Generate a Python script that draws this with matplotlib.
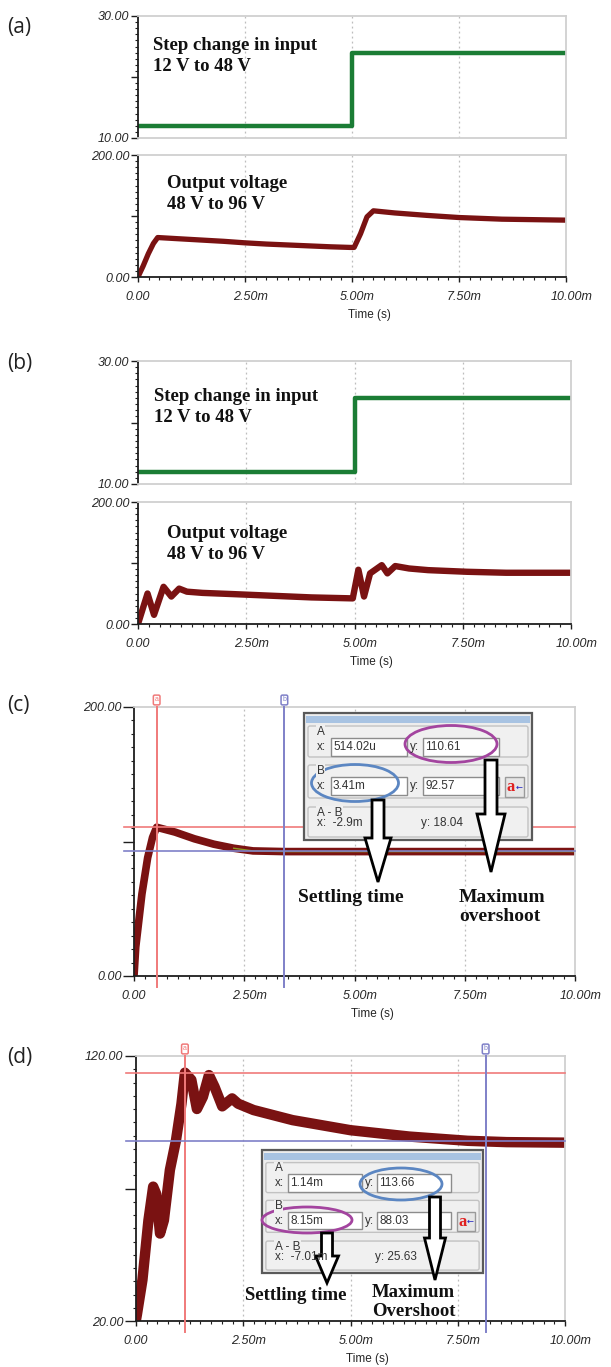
import numpy as np
import matplotlib
matplotlib.use('Agg')
import matplotlib.pyplot as plt
from matplotlib import patches, transforms

W, H = 611, 1367

# ---------------- data (time in ms) ----------------
step_t = [0.0, 5.0, 5.0, 10.0]
step_a = [12.0, 12.0, 23.9, 23.9]
step_b = [12.0, 12.0, 24.0, 24.0]

out_a_t = [0.0, 0.12, 0.24, 0.36, 0.46, 1.0, 1.5, 2.0, 2.5, 3.0, 3.5, 4.0, 4.5, 4.95,
           5.05, 5.2, 5.35, 5.5, 6.0, 6.75, 7.5, 8.5, 10.0]
out_a_v = [0, 18, 38, 55, 64.7, 62.5, 60.5, 58.5, 56, 54, 52.5, 51, 49.5, 48.5,
           48.5, 71, 98.6, 108.5, 105, 101, 97.5, 94.8, 93.2]

out_b_t = [0.0, 0.22, 0.37, 0.59, 0.77, 0.95, 1.13, 1.49, 2.2, 3.1, 4.0, 4.96,
           5.09, 5.22, 5.36, 5.63, 5.76, 5.94, 6.26, 6.7, 7.6, 8.5, 10.0]
out_b_v = [0, 50, 15, 61, 45, 58, 53, 51, 49, 46.3, 43.6, 42,
           89, 45, 83, 96.5, 83, 95, 91, 88.3, 85.6, 84, 84]

out_c_t = [0.0, 0.04, 0.18, 0.31, 0.42, 0.514, 0.93, 1.37, 1.81, 2.26, 2.7, 3.41, 10.0]
out_c_v = [0, 21.6, 61, 88, 103, 110.6, 107, 102, 98, 95, 93, 92.5, 92.5]

out_d_t = [0.0, 0.02, 0.15, 0.29, 0.40, 0.47, 0.56, 0.65, 0.79, 0.93, 1.06, 1.14, 1.29,
           1.42, 1.56, 1.70, 1.83, 2.01, 2.24, 2.38, 2.74, 3.65, 5.0, 6.37, 7.73, 8.64, 10.0]
out_d_v = [20.5, 22.3, 35.5, 58, 70.7, 68, 53, 58, 77, 88, 102, 113.7, 111,
           100, 104.6, 112.8, 108.4, 101, 104, 102, 99.6, 95.8, 92, 89.6, 88, 87.5, 87.3]

cursor_c_t = [0.514, 3.41]
cursor_c_v = [110.61, 92.57]
cursor_d_t = [1.14, 8.15]
cursor_d_v = [113.66, 88.03]
readout_c = ['514.02u', '110.61', '3.41m', '92.57', '-2.9m', '18.04']
readout_d = ['1.14m', '113.66', '8.15m', '88.03', '-7.01m', '25.63']

x_ticks = [0, 2.5, 5, 7.5, 10]
x_ticklabels = ['0.00', '2.50m', '5.00m', '7.50m', '10.00m']

GREEN = '#1b7d35'
MAROON = '#7a1212'
CRED = '#f07a7a'
CBLUE = '#7f80c8'
SANS = 'Liberation Sans'
SERIF = 'Liberation Serif'

fig = plt.figure(figsize=(W / 100, H / 100), dpi=100)


def px_rect(l, r, t, b):
    return [l / W, 1 - b / H, (r - l) / W, (b - t) / H]


def style(ax, ylim, ymaj, ylabs, yminor, xlabels=True, ylen=5):
    ax.set_xlim(0, 10)
    ax.set_ylim(ylim)
    for s in ['top', 'right']:
        ax.spines[s].set_color('#d0d0d0')
        ax.spines[s].set_linewidth(1.3)
    ax.spines['left'].set_color('#1e1e1e')
    ax.spines['left'].set_linewidth(1.3)
    ax.spines['bottom'].set_color('#1e1e1e' if xlabels else '#d0d0d0')
    ax.spines['bottom'].set_linewidth(1.3)
    for t in [2.5, 5, 7.5]:
        ax.axvline(t, color='#bdbdbd', ls=(0, (1.5, 2.5)), lw=0.9, zorder=0)
    ax.set_yticks(ymaj)
    ax.set_yticklabels(ylabs, fontsize=9, style='italic', family=SANS, color='#262626')
    ax.set_yticks(yminor, minor=True)
    ax.tick_params(axis='y', which='major', length=ylen, width=1, color='#1e1e1e', pad=1)
    ax.tick_params(axis='y', which='minor', length=2.2, width=0.8, color='#1e1e1e')
    if xlabels:
        ax.set_xticks(x_ticks)
        ax.set_xticklabels(x_ticklabels, fontsize=9, style='italic', family=SANS,
                           color='#262626')
        ax.set_xticks(np.arange(0, 10.01, 0.25), minor=True)
        ax.tick_params(axis='x', which='major', length=3.5, width=1, color='#1e1e1e', pad=6.5)
        ax.tick_params(axis='x', which='minor', length=2.5, width=0.8, color='#1e1e1e')
        # number part centred on the tick, unit letter hangs to the right
        for lab in ax.get_xticklabels():
            if lab.get_text().endswith('m'):
                lab.set_transform(lab.get_transform() +
                                  transforms.ScaledTranslation(4 / 72, 0, fig.dpi_scale_trans))
        off = transforms.offset_copy(ax.transAxes, fig=fig, x=0, y=-38, units='dots')
        ax.text(0.54, 0, 'Time (s)', transform=off, ha='center', va='center',
                fontsize=8.5, family=SANS, color='#262626')
    else:
        ax.set_xticks([])


def cursors(ax, ts, vs, xpx):
    left = -10.0 / xpx
    for t, v, c, letter in zip(ts, vs, [CRED, CBLUE], ['a', 'b']):
        ax.axvline(t, ymin=-0.04, ymax=1.0, color=c, lw=1.4, clip_on=False, zorder=4)
        ax.axhline(v, xmin=left, xmax=1.0, color=c, lw=1.2, clip_on=False, zorder=4)
        ax.annotate(letter, xy=(t, 1), xycoords=('data', 'axes fraction'),
                    xytext=(0, 7), textcoords='offset pixels', ha='center', va='center',
                    fontsize=5, color=c, family=SANS,
                    bbox=dict(boxstyle='round,pad=0.2', fc='white', ec=c, lw=1.1))


def serif_note(ax, x, y, s, size=13.5):
    ax.text(x, y, s, transform=ax.transAxes, ha='left', va='center', fontsize=size,
            family=SERIF, weight='bold', color='#111111', linespacing=1.3)


# ---------------- panel (a) ----------------
ax = fig.add_axes(px_rect(138, 566, 16, 138))
ax.plot(step_t, step_a, color=GREEN, lw=3.2, solid_capstyle='round')
style(ax, (10, 30), [10, 20, 30], ['10.00', '', '30.00'], np.arange(10, 30.1, 1), xlabels=False)
serif_note(ax, 0.035, 0.674, 'Step change in input\n12 V to 48 V')

ax = fig.add_axes(px_rect(138, 566, 155, 277))
ax.plot(out_a_t, out_a_v, color=MAROON, lw=3.8, solid_capstyle='round', solid_joinstyle='round')
style(ax, (0, 200), [0, 100, 200], ['0.00', '', '200.00'], np.arange(0, 200.1, 10))
serif_note(ax, 0.067, 0.68, 'Output voltage\n48 V to 96 V')

# ---------------- panel (b) ----------------
ax = fig.add_axes(px_rect(138, 571, 361, 484))
ax.plot(step_t, step_b, color=GREEN, lw=3.2, solid_capstyle='round')
style(ax, (10, 30), [10, 20, 30], ['10.00', '', '30.00'], np.arange(10, 30.1, 1), xlabels=False)
serif_note(ax, 0.037, 0.628, 'Step change in input\n12 V to 48 V')

ax = fig.add_axes(px_rect(138, 571, 502, 624))
ax.plot(out_b_t, out_b_v, color=MAROON, lw=4.6, solid_capstyle='round', solid_joinstyle='round')
style(ax, (0, 200), [0, 100, 200], ['0.00', '', '200.00'], np.arange(0, 200.1, 10))
serif_note(ax, 0.068, 0.656, 'Output voltage\n48 V to 96 V')

# ---------------- panel (c) ----------------
ax = fig.add_axes(px_rect(134, 575, 707, 976))
ax.plot(out_c_t, out_c_v, color=MAROON, lw=5.5, solid_capstyle='round', solid_joinstyle='round')
tc = np.array(out_c_t)
vc = np.array(out_c_v)
ax.plot(tc[tc >= 2.26], vc[tc >= 2.26], color='#8c9a22', lw=1.0)
style(ax, (0, 200), [0, 100, 200], ['0.00', '', '200.00'], np.arange(0, 200.1, 10), ylen=8)
cursors(ax, cursor_c_t, cursor_c_v, 441)

# ---------------- panel (d) ----------------
ax = fig.add_axes(px_rect(136, 565, 1056, 1321))
ax.plot(out_d_t, out_d_v, color=MAROON, lw=7.5, solid_capstyle='round', solid_joinstyle='round')
style(ax, (20, 120), [20, 70, 120], ['20.00', '', '120.00'], np.arange(20, 120.1, 5), ylen=8)
cursors(ax, cursor_d_t, cursor_d_v, 429)

# ---------------- overlay in pixel coordinates ----------------
ov = fig.add_axes([0, 0, 1, 1], zorder=10)
ov.set_xlim(0, W)
ov.set_ylim(H, 0)
ov.axis('off')

for lab, y in zip(['(a)', '(b)', '(c)', '(d)'], [27, 363, 705, 1057]):
    ov.text(7, y, lab, ha='left', va='center', fontsize=15, family='Open Sans', color='#222222')


def readout(x0, y0, w, h, vals):
    sx = w / 228.0
    sy = h / 127.0
    ov.add_patch(patches.Rectangle((x0, y0), w, h, fc='#ededed', ec='#5a5a5a', lw=1.6))
    ov.add_patch(patches.Rectangle((x0 + 2, y0 + 3 * sy), w - 4, 7 * sy, fc='#a8c3e2', ec='none'))
    groups = [(13, 31, 'A'), (52, 33, 'B'), (94, 30, 'A - B')]
    for gy, gh, name in groups:
        ov.add_patch(patches.FancyBboxPatch((x0 + 4 * sx, y0 + gy * sy), w - 8 * sx, gh * sy,
                                            boxstyle='round,pad=0,rounding_size=2',
                                            fc='#f0f0f0', ec='#c2c2c2', lw=1))
        ov.text(x0 + 13 * sx, y0 + (gy + 6) * sy, name, ha='left', va='center', fontsize=8.5,
                family=SANS, color='#333333',
                bbox=dict(boxstyle='square,pad=0.05', fc='#f0f0f0', ec='none'))
    for i, gy in enumerate([13, 52]):
        row = y0 + (gy + 21) * sy
        ov.text(x0 + 13 * sx, row, 'x:', ha='left', va='center', fontsize=8.5, family=SANS,
                color='#333333')
        ov.text(x0 + 106 * sx, row, 'y:', ha='left', va='center', fontsize=8.5, family=SANS,
                color='#333333')
        for fx, val in [(27, vals[2 * i]), (119, vals[2 * i + 1])]:
            ov.add_patch(patches.Rectangle((x0 + fx * sx, row - 9 * sy), 76 * sx, 18 * sy,
                                           fc='white', ec='#8c8c8c', lw=1))
            ov.text(x0 + (fx + 2) * sx, row, val, ha='left', va='center', fontsize=8.5,
                    family=SANS, color='#333333')
    row = y0 + 110 * sy
    ov.text(x0 + 13 * sx, row, 'x:  ' + vals[4], ha='left', va='center', fontsize=8.5,
            family=SANS, color='#333333')
    ov.text(x0 + 117 * sx, row, 'y: ' + vals[5], ha='left', va='center', fontsize=8.5,
            family=SANS, color='#333333')
    bx, by = x0 + 201 * sx, y0 + 64 * sy
    ov.add_patch(patches.Rectangle((bx, by), 19 * sx, 20 * sy, fc='#e6e6e6', ec='#9a9a9a', lw=1))
    ov.text(bx + 6 * sx, by + 10 * sy, 'a', ha='center', va='center', fontsize=12,
            family=SERIF, weight='bold', color='#e02020')
    ov.text(bx + 14 * sx, by + 10 * sy, '\u2190', ha='center', va='center', fontsize=6,
            family='DejaVu Sans', color='#2020c0')


def hollow_arrow(x, y, length, width, head_w, head_l):
    ov.add_patch(patches.FancyArrow(x, y, 0, length, width=width, head_width=head_w,
                                    head_length=head_l, length_includes_head=True,
                                    fc='white', ec='black', lw=2))


def ring(cx, cy, w, h, c):
    ov.add_patch(patches.Ellipse((cx, cy), w, h, fill=False, ec=c, lw=2))


def bold_note(x, y, s, size):
    ov.text(x, y, s, ha='left', va='center', fontsize=size, family=SERIF, weight='bold',
            color='#111111', linespacing=1.2)


# (c) readout box
readout(304, 713, 228, 127, readout_c)
ring(451, 744, 92, 37, '#a3449f')
ring(355, 783, 87, 37, '#5b86c2')
hollow_arrow(378, 800, 82, 12, 26, 44)
hollow_arrow(491, 760, 112, 12, 28, 58)
bold_note(298, 897, 'Settling time', 14)
bold_note(459, 907, 'Maximum\novershoot', 14)

# (d) readout box
readout(262, 1150, 221, 123, readout_d)
ring(401, 1184, 82, 32, '#5b86c2')
ring(307, 1220, 90, 26, '#a3449f')
hollow_arrow(327, 1233, 50, 11, 23, 27)
hollow_arrow(435, 1197, 83, 11, 21, 42)
bold_note(245, 1296, 'Settling time', 13.5)
bold_note(372, 1302, 'Maximum\nOvershoot', 13.5)

fig.savefig('out.png', dpi=100)
